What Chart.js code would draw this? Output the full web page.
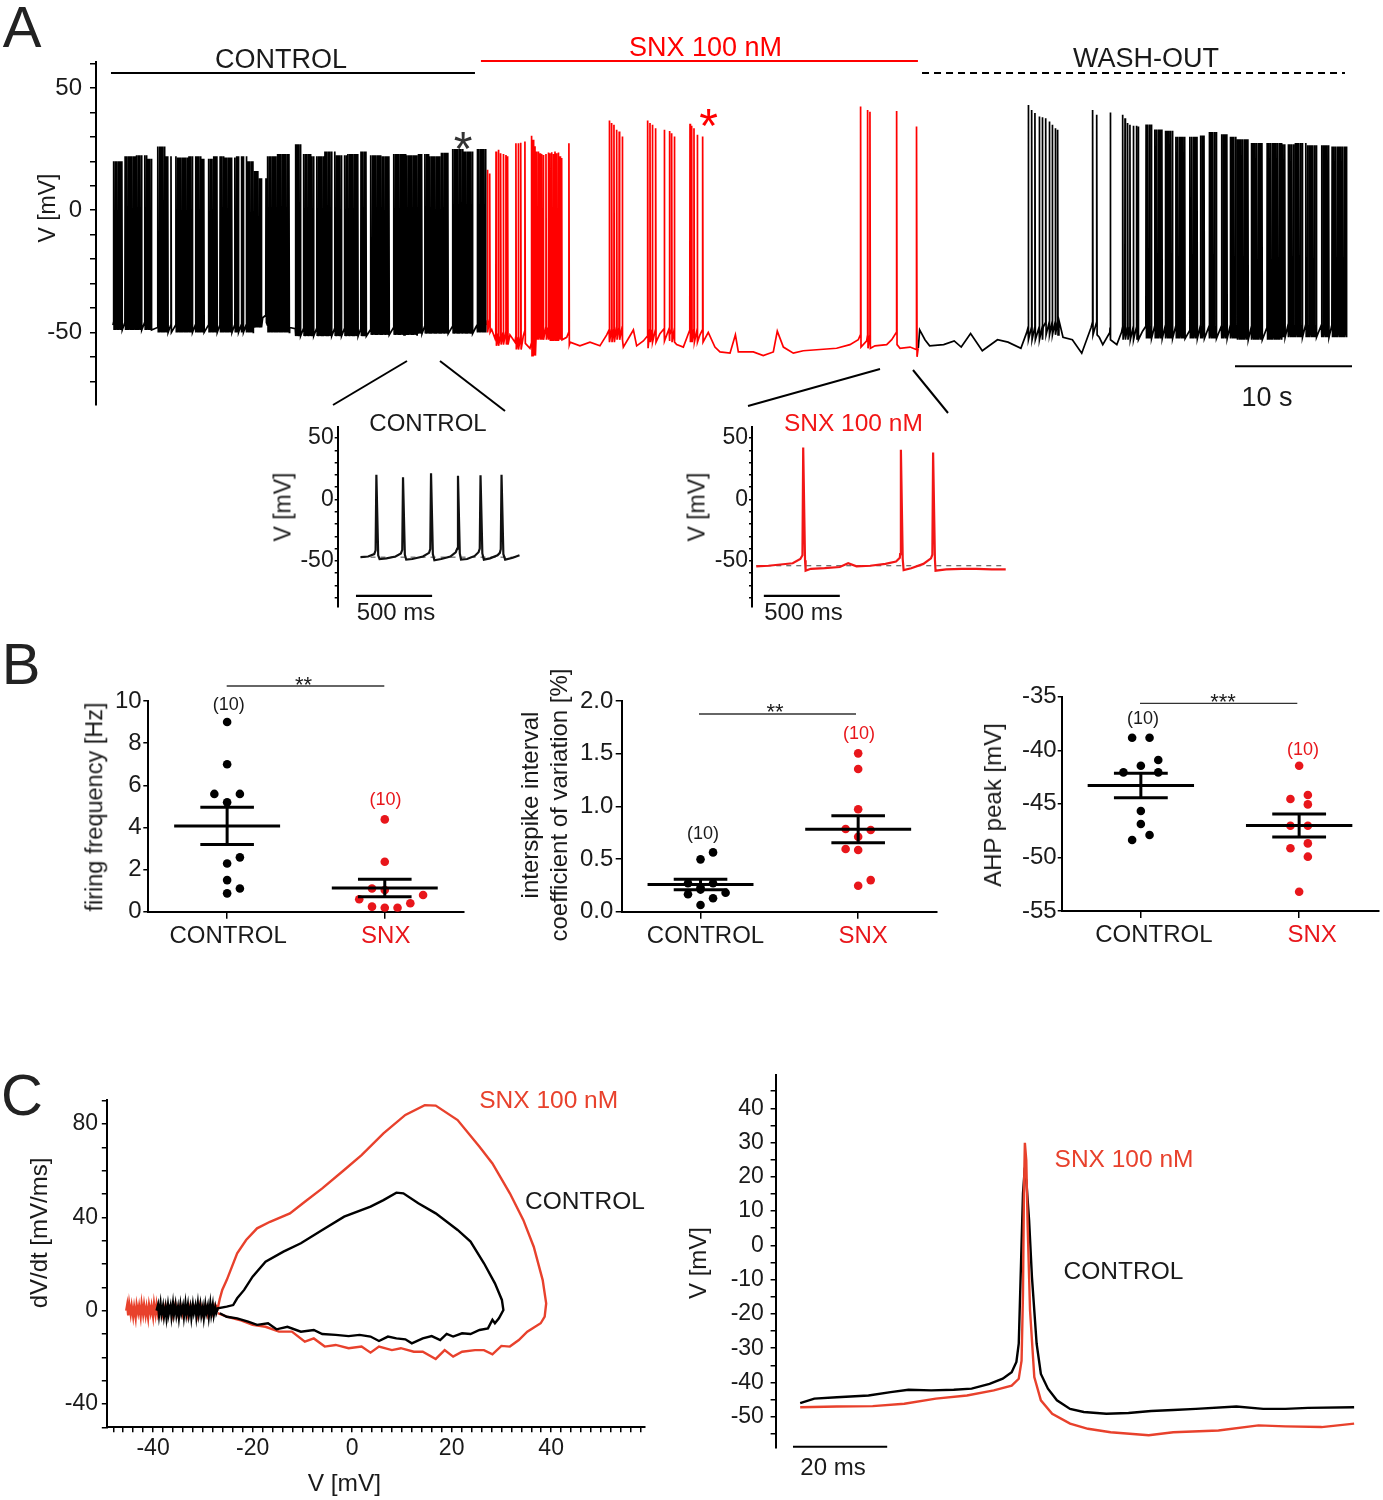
<!DOCTYPE html>
<html>
<head>
<meta charset="utf-8">
<title>SNX firing figure</title>
<script src="https://cdn.jsdelivr.net/npm/chart.js@4.4.1/dist/chart.umd.min.js"></script>
<style>
  body { margin: 0; background: #fff; }
  #fig { position: relative; width: 1383px; height: 1500px; overflow: hidden; background: #fff;
         font-family: "Liberation Sans", Arial, Helvetica, sans-serif; }
  #fig canvas { position: absolute; }
  .lbl { position: absolute; white-space: nowrap; line-height: 1; transform: translate(-50%, -50%); color: #1a1a1a; }
</style>
</head>
<body>
<div id="fig"></div>
<script>
// ---------------- data ----------------

// A, main recording (time in s, voltage in mV)
// dense firing stretches are given as window + interspike interval + pauses (white lines)
const ctrlWindow = [0.06, 31.9];
const ctrlIsi = 0.14;
const ctrlGaps = [[3.31, 3.79], [12.71, 13.08], [15.13, 15.56]];
const ctrlPauses = [0.88, 2.59, 4.81, 5.15, 6.92, 7.95, 9.0, 10.28, 10.85, 11.28, 16.13, 17.26,
  18.83, 19.68, 21.05, 21.82, 23.82, 26.52, 28.8, 30.94];
const ctrlEnvT = [0, 1, 2, 3, 3.8, 4.5, 5.5, 6.5, 7.5, 8.5, 9.5, 10.5, 11.5, 12.0, 12.4, 13.1, 14,
  15.6, 16.3, 17, 18, 19, 20, 21, 22, 23, 24, 25, 26, 27, 28, 29, 30, 31];
const ctrlEnvV = [20, 22, 22.5, 21, 26, 22, 21.5, 22, 21, 22, 21.5, 22, 20, 16, 13, 22, 23,
  27, 23, 22, 24, 22.5, 23, 24, 22.5, 22, 23, 22.5, 23, 22, 23.5, 25, 24, 25];
const ctrlBaseT = [0, 3.3, 3.8, 12.0, 12.8, 13.1, 15.1, 15.6, 22, 26, 31];
const ctrlBaseV = [-47, -46.5, -48, -46, -44, -48, -48, -49.5, -49, -48.5, -48];

const snxSpikeT = [32.0, 32.2, 32.74, 32.94, 33.14, 33.36, 33.59, 33.73, 34.44, 34.64, 34.85, 35.21,
  35.78, 35.92, 36.07, 36.21, 36.35, 36.50, 36.64, 36.78, 37.01, 37.21, 37.35, 37.50, 37.64, 37.78,
  37.92, 38.06, 38.21, 38.35, 38.97, 42.42, 42.62, 42.82, 43.05, 43.27, 43.53, 45.70, 45.90, 46.10,
  46.38, 47.12, 47.55, 47.75, 47.98, 49.32, 49.46, 49.66, 49.94, 50.40, 63.90, 64.50, 64.70, 66.98, 68.69];
const snxSpikeV = [16.5, 15, 24.0, 24.7, 23.3, 23.0, 22.6, 22.0, 27.4, 27.4, 27.6, 28.1,
  30.4, 28.8, 26.1, 24.0, 24.0, 23.3, 23.0, 22.6, 23.0, 23.6, 23.3, 23.7, 23.0, 24.0,
  23.3, 23.6, 22.0, 21.3, 27.4, 36.7, 35.6, 34.9, 32.9, 32.2, 30.1, 36.7, 35.6, 34.9,
  33.5, 32.9, 32.4, 31.5, 30.1, 35.3, 34.5, 33.5, 30.8, 30.1, 42.4, 41.0, 40.3, 40.6, 34.2];
const snxBaseT = [31.96, 32.37, 32.65, 33.08, 33.93, 34.36, 35.07, 35.64, 36.21, 37.35, 38.21, 38.78,
  39.07, 39.91, 40.77, 41.62, 42.2, 43.05, 43.62, 44.48, 44.76, 45.33, 45.9, 46.75, 47.6, 48.18, 48.75,
  49.32, 50.17, 50.88, 51.45, 51.88, 52.74, 53.2, 53.45, 54.73, 55.58, 56.44, 56.78, 57.3, 58.15, 59.0,
  60.43, 61.85, 62.99, 63.7, 64.42, 65.13, 66.13, 66.56, 66.98, 67.27, 68.13, 68.64, 68.82];
const snxBaseV = [-47, -48.8, -52.5, -52, -51, -54, -51.5, -56.5, -50, -50.5, -50, -52,
  -54, -55.5, -54, -55.5, -51, -50, -56, -49, -55.5, -53.5, -51, -50.5, -51, -55, -56,
  -51, -51, -50, -56, -58, -58.5, -51, -58, -58, -59.5, -58, -49.5, -56, -58.5, -57.5,
  -57, -56.5, -55, -53, -53.5, -55.5, -55, -53, -52, -56.5, -56, -57, -56.5];

const washSpikeT = [78.23, 78.52, 78.80, 79.17, 79.43, 79.72, 80.03, 80.28, 80.54, 80.74,
  83.73, 84.08, 85.24, 86.30, 86.50, 86.72, 86.92, 87.21, 87.49, 87.63];
const washSpikeV = [43, 41, 39.7, 38.3, 38.0, 37.6, 36.3, 34.9, 33.5, 32.9,
  41, 39, 39.9, 39, 37.6, 35.6, 34.9, 34.5, 34.5, 34.2];
const washBaseT = [68.83, 68.95, 69.4, 69.8, 71.0, 71.9, 72.5, 73.3, 74.3, 75.6, 76.5, 77.6, 78.1,
  79.5, 80.85, 81.2, 82.0, 82.8, 83.6, 84.3, 84.6, 85.2, 85.8, 86.2, 88.0, 92.0, 96.0, 100.0, 105.44];
const washBaseV = [-56.5, -49, -53, -55.5, -55, -53.5, -56, -50.5, -57.5, -53, -54, -56.5, -50,
  -48, -45, -52, -53, -58.5, -48, -52, -55, -50, -55, -50, -49.5, -49.5, -50, -49, -49];
const washWindow = [88.3, 105.44];
const washIsi = 0.15;
const washPauses = [88.92, 89.77, 90.68, 91.82, 92.77, 93.48, 94.56, 95.33, 97.18, 98.46,
  100.31, 101.79, 103.10, 104.02];
const washEnvT = [88.3, 89.0, 89.8, 90.6, 92.7, 93.5, 94.6, 95.3, 96.0, 97.2, 100.0, 101.0, 102.0, 104.0];
const washEnvV = [35, 33, 32.5, 30, 30.5, 32, 31, 30, 29, 27.5, 27, 27.5, 26.5, 26];

const condBarT = [[-0.17, 30.94], [31.45, 68.8], [69.15, 105.3]];
const condBarV = [56.1, 61.0, 56.1];
const tenSecBar = [95.9, 105.9];

// A, insets (time in s from trace start)
const inCtrlSpikeT = [0.104, 0.279, 0.463, 0.640, 0.788, 0.926];
const inCtrlSpikeV = [20.0, 18.1, 21.4, 19.2, 19.6, 20.0];
const inCtrlBaseT = [0.00, 0.05, 0.09, 0.125, 0.17, 0.23, 0.265, 0.30, 0.34, 0.41, 0.45, 0.485, 0.53,
  0.59, 0.625, 0.66, 0.70, 0.75, 0.775, 0.81, 0.85, 0.90, 0.915, 0.95, 1.00, 1.044];
const inCtrlBaseV = [-47.0, -46.5, -44.5, -48.5, -48.0, -46.5, -44.0, -49.0, -48.5, -46.5, -43.5, -49.5, -48.5,
  -46.5, -43.0, -49.0, -48.5, -46.0, -43.0, -49.0, -48.0, -45.5, -43.5, -49.0, -47.5, -45.5];
const inSnxSpikeT = [0.309, 0.952, 1.164];
const inSnxSpikeV = [42.3, 40.4, 38.2];
const inSnxBaseT = [0.00, 0.08, 0.16, 0.24, 0.29, 0.325, 0.36, 0.45, 0.55, 0.605, 0.66, 0.75, 0.85,
  0.92, 0.945, 0.97, 1.02, 1.10, 1.15, 1.18, 1.25, 1.35, 1.45, 1.55, 1.642];
const inSnxBaseV = [-54.5, -54.0, -53.0, -52.0, -48.5, -58.0, -56.5, -56.0, -55.0, -52.0, -54.5, -54.0, -52.5,
  -50.5, -47.5, -57.5, -56.0, -52.5, -48.0, -58.0, -57.0, -56.5, -56.5, -57.0, -57.0];
const inCtrlRest = -47, inSnxRest = -54;
const inCtrlBar = [-0.03, 0.47], inSnxBar = [0.05, 0.55];

// B, group data
const groupNames = ['CONTROL', 'SNX'];
const ffCtrl = [9.0, 7.0, 5.59, 5.59, 5.19, 2.29, 2.58, 1.5, 1.1, 0.87];
const ffCtrlCol = [0, 0, -1, 1, 0, 0, 1, 0, 1, 0];
const ffSnx = [4.38, 2.37, 1.1, 1.03, 0.59, 0.79, 0.4, 0.24, 0.19, 0.19];
const ffSnxCol = [0, 0, -1, 0, -2, 3, 2, -1, 0, 1];
const cvCtrl = [0.563, 0.497, 0.27, 0.27, 0.23, 0.21, 0.165, 0.18, 0.127, 0.063];
const cvCtrlCol = [1, 0, -1, 1, 0, 0, -1, 2, 1, 0];
const cvSnx = [1.503, 1.354, 0.972, 0.785, 0.775, 0.712, 0.595, 0.585, 0.30, 0.247];
const cvSnxCol = [0, 0, 0, -1, 1, 0, -1, 0, 1, 0];
const ahpCtrl = [-38.83, -38.83, -40.91, -41.44, -42.06, -42.06, -45.67, -46.88, -47.91, -48.37];
const ahpCtrlCol = [-1, 1, 2, 0, -2, 2, 0, 0, 1, -1];
const ahpSnx = [-41.44, -44.55, -44.18, -45.05, -47.04, -47.04, -48.69, -49.15, -49.93, -53.20];
const ahpSnxCol = [0, -1, 1, 1, -1, 1, 1, -1, 1, 0];

// C, phase plot [V, dV/dt] : noisy resting part, then the spike loop
const phaseCtrlRest = [[-39.3,0],[-39.0,2.5],[-38.8,-2],[-38.5,3],[-38.3,-1.5],[-38.0,2],[-37.8,-2.5],
  [-37.5,1.5],[-37.3,-3],[-37.0,2.5],[-36.8,-1],[-36.5,2],[-36.3,-2.5],[-36.0,3],[-35.8,-1.5],[-35.5,2.5],
  [-35.3,-2],[-35.0,1.5],[-34.8,-3],[-34.5,2.5],[-34.3,-1],[-34.0,2],[-33.8,-2.5],[-33.5,3],[-33.3,-1.5],
  [-33.0,2.5],[-32.8,-2],[-32.5,1.5],[-32.3,-3],[-32.0,2.5],[-31.8,-1],[-31.5,2],[-31.3,-2.5],[-31.0,3],
  [-30.8,-1.5],[-30.5,2.5],[-30.3,-2],[-30.0,1.5],[-29.8,-3],[-29.5,2.5],[-29.3,-1],[-29.0,2],[-28.8,-2.5],
  [-28.5,3],[-28.3,-1.5],[-28.0,2.5],[-27.8,-2],[-27.5,1.5],[-27.3,-1],[-27.0,1]];
const phaseCtrlLoop = [[-25.2,1.7],[-23.9,2.4],
  [-23.1,5.3],[-21.7,8.9],[-20,14.6],[-17.4,21],[-13.8,25.3],[-10.3,28.9],[-6,34.6],[-1.6,40.3],[3.7,44.6],
  [6.3,47.4],[8.9,50.6],[10.3,50.3],[13.3,46],[16.8,41.7],[21.2,34.6],[23.8,29.6],[26.5,20.3],[28.7,11.7],
  [30.1,4.6],[30.4,0.3],[29.5,-3.3],[28.7,-5.4],[28.2,-3.9],[27.3,-7.6],[25.6,-8.3],[23.8,-10],[22.1,-9.7],
  [20.3,-11.1],[19,-10],[17.7,-12.6],[16,-10.9],[14.2,-11.9],[12,-14],[10.7,-12.3],[8.9,-11.9],[7.2,-11.1],
  [5.4,-13],[3.7,-11.1],[1.5,-10.4],[-0.7,-10.9],[-3.3,-10.4],[-6,-10],[-7.7,-8.3],[-10.3,-9],[-13,-6.9],
  [-15.2,-8],[-16.9,-5.4],[-19.1,-6.1],[-20.9,-4.7],[-23.1,-3.3],[-25.2,-2.6],[-26.6,-1.1]];
const phaseSnxRest = [[-45.4,0],[-45.2,2.5],[-45.0,-2],[-44.8,3],[-44.5,-1.5],[-44.3,2],[-44.0,-2.5],
  [-43.8,1.5],[-43.5,-3],[-43.3,2.5],[-43.0,-1],[-42.8,2],[-42.5,-2.5],[-42.3,3],[-42.0,-1.5],[-41.8,2.5],
  [-41.5,-2],[-41.3,1.5],[-41.0,-3],[-40.8,2.5],[-40.5,-1],[-40.3,2],[-40.0,-2.5],[-39.8,3],[-39.5,-1.5],
  [-39.3,2.5],[-39.0,-2],[-38.5,1.5],[-38.0,-2.5],[-37.5,2.5],[-37.0,-1],[-36.5,2],[-36.0,-2.5],[-35.5,3],
  [-35.0,-1.5],[-34.5,2.5],[-34.0,-2],[-33.5,1.5],[-33.0,-2.5],[-32.5,2.5],[-32.0,-1],[-31.5,2],[-31.0,-2.5],
  [-30.5,3],[-30.0,-1.5],[-29.5,2.5],[-29.0,-2],[-28.5,1.5],[-28.0,-1.5],[-27.5,2.5],[-27.0,1]];
const phaseSnxLoop = [[-26.6,5],[-26.1,8.9],[-25.2,13.1],[-23.1,24.6],[-21.3,30.3],[-19.1,35.3],[-16.5,38.1],
  [-12.5,41.7],[-9.5,46.7],[-6,52.4],[-1.6,60.3],[1.9,66.7],[6.3,76],[10.7,83.9],[14.6,88.1],[16.8,87.9],
  [21.2,81.7],[25.6,70.3],[28.2,63.1],[31.7,50.3],[34.4,38.9],[36.5,27.4],[38.3,13.1],[39,3.1],[38.7,-2.6],
  [37.9,-5.4],[35.2,-9],[33.5,-12.6],[31.7,-15.4],[30,-15.1],[28.2,-18.7],[26.5,-16.9],[24.7,-16.9],
  [22.1,-17.6],[20.3,-19.7],[18.6,-16.9],[16.8,-20.7],[14.2,-17.6],[12.4,-17.6],[9.8,-16.1],[8,-16.9],
  [5.4,-15.4],[3.7,-18],[1.9,-15.4],[-0.7,-16.1],[-3.3,-14.7],[-5.5,-15.4],[-7.7,-11.9],[-9.5,-13.3],
  [-12.1,-9],[-14.7,-9],[-17.4,-6.9],[-20,-6.1],[-22.6,-4],[-25.2,-2.6],[-27,-1.1]];

// C, single spike overlay (ms, mV)
const apCtrlT = [0, 3.0, 7.8, 14.5, 19.2, 23, 27.8, 32.6, 36.4, 40.2, 43, 44.9, 45.9, 46.4, 46.9, 47.3, 47.6,
  48, 48.6, 49.2, 50.2, 51.1, 52.6, 54.5, 57.3, 60.2, 65, 69.7, 74.5, 79.2, 84, 92.6, 98.3, 103, 107.8, 117.6];
const apCtrlV = [-46, -44.7, -44.3, -43.8, -42.8, -42.1, -42.3, -42.1, -41.8, -40.4, -38.9, -37, -34, -28.7,
  -4.4, 15.1, 20.9, 19, 7.3, -9.2, -28.7, -37.5, -41.8, -45.2, -47.7, -48.6, -49.1, -48.9, -48.3, -48, -47.7,
  -47, -47.7, -47.7, -47.4, -47.2];
const apSnxT = [0, 7.8, 15.4, 22.1, 28.8, 35.4, 41.1, 44.9, 46.4, 47, 47.3, 47.5, 47.7, 48, 48.3, 48.8, 49.7,
  51.1, 53.5, 57.3, 61.1, 65.9, 74, 79.2, 88.8, 97.3, 103, 110.7, 117.6];
const apSnxV = [-47.2, -47, -46.9, -46.2, -44.7, -43.8, -42.3, -40.9, -38.9, -33.6, -14.1, 15.1, 29.9, 24.8,
  5.4, -19, -38.4, -45.2, -49.1, -52, -53.5, -54.5, -55.4, -54.5, -54, -52.5, -52.8, -53, -52];
const twentyMsBar = [-1.53, 18.47];

// ---------------- helpers ----------------
const FONT = '"Liberation Sans", Arial, Helvetica, sans-serif';
const INK = '#1a1a1a', RED = '#ff0000', RED_IN = '#f21616', RED_B = '#e8161b', RED_C = '#e8412c';
Chart.defaults.font.family = FONT;
Chart.defaults.animation = false;
const fig = document.getElementById('fig');

function addCanvas(left, top, w, h) {
  const c = document.createElement('canvas');
  c.width = w; c.height = h;
  c.style.left = left + 'px'; c.style.top = top + 'px';
  c.style.width = w + 'px'; c.style.height = h + 'px';
  fig.appendChild(c);
  return c;
}

function label(text, x, y, size, color, rot) {
  const d = document.createElement('div');
  d.className = 'lbl';
  d.textContent = text;
  d.style.left = x + 'px';
  d.style.top = y + 'px';
  d.style.fontSize = size + 'px';
  if (color) d.style.color = color;
  if (rot) d.style.transform = 'translate(-50%, -50%) rotate(' + rot + 'deg)';
  fig.appendChild(d);
}

// plain straight lines given in page pixels (connectors, significance bars)
function linesPlugin(lines, ox, oy) {
  return {
    id: 'pageLines',
    afterDatasetsDraw(chart) {
      const ctx = chart.ctx;
      ctx.save();
      lines.forEach(l => {
        ctx.beginPath();
        ctx.strokeStyle = l.color || '#000';
        ctx.lineWidth = l.w || 1.5;
        ctx.moveTo(l.p[0] - ox, l.p[1] - oy);
        ctx.lineTo(l.p[2] - ox, l.p[3] - oy);
        ctx.stroke();
      });
      ctx.restore();
    }
  };
}

function stepAt(ts, vs, t) {
  let v = vs[0];
  for (let i = 0; i < ts.length; i++) { if (ts[i] <= t) v = vs[i]; else break; }
  return v;
}

function denseSpikes(win, isi, pauses, gaps) {
  const out = [];
  for (let k = 0; win[0] + k * isi <= win[1]; k++) {
    const t = win[0] + k * isi;
    if (pauses.some(p => Math.abs(t - p) < isi * 0.75)) continue;
    if (gaps.some(g => t >= g[0] && t <= g[1])) continue;
    out.push(t);
  }
  return out;
}

// baseline samples + spikes -> one ordered polyline
function trace(baseT, baseV, spikeT, spikeV, rise, fall, up, down) {
  const pts = [];
  baseT.forEach((t, i) => {
    if (!spikeT.some(s => t > s - rise && t < s + fall)) pts.push({ x: t, y: baseV[i] });
  });
  spikeT.forEach((s, i) => {
    const b = stepAt(baseT, baseV, s);
    pts.push({ x: s - rise, y: b + up }, { x: s, y: spikeV[i] }, { x: s + fall, y: b - down });
  });
  return pts.sort((a, b) => a.x - b.x);
}

const seg = (r, v) => [{ x: r[0], y: v }, { x: r[1], y: v }];
const xy = (ts, vs) => ts.map((t, i) => ({ x: t, y: vs[i] }));
const pairs = a => a.map(p => ({ x: p[0], y: p[1] }));
const onGrid = (v, every) => Math.abs(v / every - Math.round(v / every)) < 1e-6;

function lineDs(data, color, width, extra) {
  return Object.assign({ type: 'line', data, borderColor: color, borderWidth: width, pointRadius: 0,
    fill: false, tension: 0, showLine: true }, extra || {});
}

function yAxis(o) {
  return {
    type: 'linear', min: o.min, max: o.max,
    // fixed width, and no extra room reserved for half labels at the ends
    afterFit: s => { s.width = o.width; s.paddingTop = 0; s.paddingBottom = 0; },
    border: { display: true, color: '#000', width: 2 },
    grid: { display: true, drawOnChartArea: false, drawTicks: true, tickLength: o.tick, color: '#000', lineWidth: 1.5 },
    ticks: {
      stepSize: o.step, includeBounds: false, autoSkip: false, maxTicksLimit: 1000,
      padding: o.pad, color: INK, font: { size: o.size },
      callback: v => onGrid(v, o.every) ? (o.fmt ? o.fmt(v) : String(Math.round(v))) : ''
    }
  };
}

function baseOpts(pad, scales) {
  return {
    responsive: false, animation: false, events: [],
    layout: { padding: pad },
    plugins: { legend: { display: false }, tooltip: { enabled: false } },
    scales
  };
}

// ---------------- panel A : main recording ----------------
const ctrlSpk = denseSpikes(ctrlWindow, ctrlIsi, ctrlPauses, ctrlGaps);
const ctrlTrace = trace(ctrlBaseT, ctrlBaseV, ctrlSpk, ctrlSpk.map(t => stepAt(ctrlEnvT, ctrlEnvV, t)), 0.02, 0.035, 1, 2);
const snxTrace = trace(snxBaseT, snxBaseV, snxSpikeT, snxSpikeV, 0.02, 0.035, 2, 3);
const washDense = denseSpikes(washWindow, washIsi, washPauses, []);
const washTrace = trace(washBaseT, washBaseV, washSpikeT.concat(washDense),
  washSpikeV.concat(washDense.map(t => stepAt(washEnvT, washEnvV, t))), 0.02, 0.035, 2, 3);

const condColor = ['#000', RED, '#000'];
const condDash = [[], [], [7, 5]];
const connectors = [
  { p: [407, 361, 333, 405], w: 2 }, { p: [440, 361, 505, 411], w: 2 },
  { p: [880, 369, 748, 406], w: 2 }, { p: [913, 370, 948, 413], w: 2 }
];

new Chart(addCanvas(0, 0, 1383, 420), {
  type: 'line',
  data: { datasets: [
    lineDs(ctrlTrace, '#000', 1.7),
    lineDs(snxTrace, RED, 1.7),
    lineDs(washTrace, '#000', 1.7),
    lineDs(seg(tenSecBar, -63.9), '#000', 2),
  ].concat(condBarT.map((b, i) => lineDs(seg(b, condBarV[i]), condColor[i], 2, { borderDash: condDash[i], clip: false }))) },
  options: baseOpts({ left: 0, top: 62, right: 31, bottom: 15 }, {
    x: { type: 'linear', display: false, min: -1.45, max: 105.9 },
    y: yAxis({ min: -79.7, max: 60.6, step: 10, every: 50, width: 96, tick: 6, pad: 8, size: 24 })
  }),
  plugins: [linesPlugin(connectors, 0, 0)]
});

// ---------------- panel A : insets ----------------
function insetChart(left, width, yW, xMin, xMax, padRight, ds) {
  new Chart(addCanvas(left, 410, width, 220), {
    type: 'line',
    data: { datasets: ds },
    options: baseOpts({ left: 0, top: 17, right: padRight, bottom: 23 }, {
      x: { type: 'linear', display: false, min: xMin, max: xMax },
      y: yAxis({ min: -87.6, max: 59, step: 10, every: 50, width: yW, tick: 3, pad: 1, size: 23 })
    })
  });
}
insetChart(260, 290, 77.7, -0.15, 1.113, 20, [
  lineDs(trace(inCtrlBaseT, inCtrlBaseV, inCtrlSpikeT, inCtrlSpikeV, 0.005, 0.012, 3, 1), '#111', 2.2),
  lineDs(seg([0, 1.044], inCtrlRest), '#444', 1, { borderDash: [5, 5] }),
  lineDs(seg(inCtrlBar, -78.6), '#000', 2.2)
]);
insetChart(670, 360, 82, -0.028, 1.703, 15, [
  lineDs(trace(inSnxBaseT, inSnxBaseV, inSnxSpikeT, inSnxSpikeV, 0.005, 0.012, 3, 1), RED_IN, 2.2),
  lineDs(seg([0, 1.64], inSnxRest), '#444', 1, { borderDash: [5, 5] }),
  lineDs(seg(inSnxBar, -78.6), '#000', 2.2)
]);

// ---------------- panel B : group scatter plots ----------------
function meanSem(a) {
  const m = a.reduce((s, v) => s + v, 0) / a.length;
  const sd = Math.sqrt(a.reduce((s, v) => s + (v - m) * (v - m), 0) / (a.length - 1));
  return [m, sd / Math.sqrt(a.length)];
}

function groupDatasets(vals, cols, unit, c, color) {
  const [m, s] = meanSem(vals);
  const bar = data => lineDs(data, '#000', 3, { type: 'scatter', order: 0 });
  return [
    { type: 'scatter', data: vals.map((v, i) => ({ x: c + cols[i] * unit, y: v })), pointRadius: 4.3,
      pointBackgroundColor: color, pointBorderWidth: 0, showLine: false, order: 1 },
    bar([{ x: c - 0.336, y: m }, { x: c + 0.336, y: m }]),
    bar([{ x: c - 0.17, y: m + s }, { x: c + 0.17, y: m + s }]),
    bar([{ x: c - 0.17, y: m - s }, { x: c + 0.17, y: m - s }]),
    bar([{ x: c, y: m - s }, { x: c, y: m + s }])
  ];
}

function groupChart(o) {
  new Chart(addCanvas(o.left, o.top, o.w, o.h), {
    type: 'scatter',
    data: { datasets: groupDatasets(o.ctrl, o.ctrlCol, o.unit, 0, '#000')
      .concat(groupDatasets(o.snx, o.snxCol, o.unit, 1, RED_B)) },
    options: baseOpts({ left: 0, top: o.padTop, right: o.padRight, bottom: 0 }, {
      x: {
        type: 'linear', min: -0.5, max: 1.5,
        afterFit: s => { s.height = o.xH; },
        afterBuildTicks: s => { s.ticks = groupNames.map((n, i) => ({ value: i })); },
        border: { display: true, color: '#000', width: 2 },
        grid: { display: true, drawOnChartArea: false, tickLength: 7, color: '#000', lineWidth: 1.5 },
        ticks: { autoSkip: false, maxRotation: 0, padding: 3, font: { size: 24 }, labelOffset: o.lblOff,
          color: c => (c.index === 1 ? RED_B : INK), callback: v => groupNames[Math.round(v)] }
      },
      y: yAxis({ min: o.yMin, max: o.yMax, step: o.step, every: o.step, width: o.yW, tick: o.tick, pad: o.pad, size: 24, fmt: o.fmt })
    }),
    plugins: [linesPlugin([{ p: o.sig, w: 1.3, color: '#333' }], o.left, o.top)]
  });
}

groupChart({ left: 60, top: 640, w: 420, h: 320, padTop: 61, padRight: 16.4, xH: 48.3, yW: 88.3,
  ctrl: ffCtrl, ctrlCol: ffCtrlCol, snx: ffSnx, snxCol: ffSnxCol, unit: 0.081, lblOff: 1,
  yMin: 0, yMax: 10, step: 2, tick: 5, pad: 1.6, sig: [226.7, 686, 384.3, 686] });
groupChart({ left: 500, top: 650, w: 450, h: 310, padTop: 51, padRight: 13, xH: 48.3, yW: 121.7,
  ctrl: cvCtrl, ctrlCol: cvCtrlCol, snx: cvSnx, snxCol: cvSnxCol, unit: 0.0795, lblOff: 5,
  yMin: 0, yMax: 2, step: 0.5, tick: 6, pad: 2.4, fmt: v => v.toFixed(1), sig: [699, 714, 856, 714] });
groupChart({ left: 960, top: 680, w: 423, h: 280, padTop: 16.7, padRight: 4.7, xH: 49, yW: 101.7,
  ctrl: ahpCtrl, ctrlCol: ahpCtrlCol, snx: ahpSnx, snxCol: ahpSnxCol, unit: 0.055, lblOff: 13,
  yMin: -55, yMax: -35, step: 5, tick: 4, pad: 1, sig: [1140, 703.3, 1297.3, 703.3] });

// ---------------- panel C : phase plot ----------------
new Chart(addCanvas(0, 1060, 680, 440), {
  type: 'scatter',
  data: { datasets: [
    lineDs(pairs(phaseCtrlRest.concat(phaseCtrlLoop)), '#000', 2.4, { type: 'scatter', order: 0 }),
    lineDs(pairs(phaseSnxRest.concat(phaseSnxLoop)), RED_C, 2.4, { type: 'scatter', order: 1 })
  ] },
  options: baseOpts({ left: 0, top: 40, right: 34.8, bottom: 0 }, {
    x: {
      type: 'linear', min: -49.3, max: 58.9,
      afterFit: s => { s.height = 72.7; s.paddingLeft = 0; s.paddingRight = 0; },
      border: { display: true, color: '#000', width: 2 },
      grid: { display: true, drawOnChartArea: false, tickLength: 5, color: '#000', lineWidth: 1.5 },
      ticks: { stepSize: 2, includeBounds: false, autoSkip: false, maxTicksLimit: 1000, maxRotation: 0,
        padding: 3, color: INK, font: { size: 23 }, callback: v => onGrid(v, 20) ? String(Math.round(v)) : '' }
    },
    y: yAxis({ min: -50, max: 90.3, step: 10, every: 40, width: 106.8, tick: 5, pad: 3.8, size: 23 })
  })
});

// ---------------- panel C : spike overlay ----------------
new Chart(addCanvas(680, 1060, 703, 440), {
  type: 'line',
  data: { datasets: [
    lineDs(xy(apSnxT, apSnxV), RED_C, 2.4, { order: 0 }),
    lineDs(xy(apCtrlT, apCtrlV), '#000', 2.4, { order: 1 }),
    lineDs(seg(twentyMsBar, -58.75), '#000', 2, { order: 2, clip: false })
  ] },
  options: baseOpts({ left: 0, top: 15, right: 27, bottom: 52.7 }, {
    x: { type: 'linear', display: false, min: -5.22, max: 118 },
    y: yAxis({ min: -58.9, max: 49.7, step: 5, every: 10, width: 95.6, tick: 5, pad: 6.7, size: 23 })
  })
});

// ---------------- text ----------------
[['A', 22, 27, 58], ['B', 21, 664, 58], ['C', 22, 1095, 58]].forEach(l => label(l[0], l[1], l[2], l[3], '#222'));

label('CONTROL', 281, 59, 27);
label('SNX 100 nM', 705.5, 46.7, 27, RED);
label('WASH-OUT', 1146, 58.3, 27);
label('V [mV]', 46.7, 208, 23, null, -90);
label('*', 463, 149, 48, '#333');
label('*', 708.5, 126, 48, RED);
label('10 s', 1267, 397, 27);

label('CONTROL', 428, 423.3, 24);
label('SNX 100 nM', 853.4, 423, 24.5, RED_IN);
label('V [mV]', 283, 507, 23, null, -90);
label('V [mV]', 697, 507, 23, null, -90);
label('500 ms', 396, 611.7, 24);
label('500 ms', 803.5, 611.7, 24);

label('firing frequency [Hz]', 95, 806.7, 23.5, null, -90);
label('(10)', 228.8, 704, 18);
label('(10)', 385.5, 799, 18, RED_B);
label('**', 303.5, 685, 22);
label('interspike interval', 530, 805, 24, null, -90);
label('coefficient of variation [%]', 559, 805, 24, null, -90);
label('(10)', 703, 833, 18);
label('(10)', 859, 733.3, 18, RED_B);
label('**', 775, 712, 22);
label('AHP peak [mV]', 993.3, 805, 24, null, -90);
label('(10)', 1143, 718.3, 18);
label('(10)', 1303, 749, 18, RED_B);
label('***', 1223, 701.5, 22);

label('dV/dt [mV/ms]', 39.2, 1233, 24, null, -90);
label('V [mV]', 344.4, 1483, 24.5);
label('SNX 100 nM', 548.7, 1100, 24.5, RED_C);
label('CONTROL', 585, 1200.7, 24.5);
label('SNX 100 nM', 1124, 1159.3, 24.5, RED_C);
label('CONTROL', 1123.5, 1270.7, 24.5);
label('V [mV]', 698, 1263, 24, null, -90);
label('20 ms', 833, 1467, 24);
</script>
</body>
</html>
